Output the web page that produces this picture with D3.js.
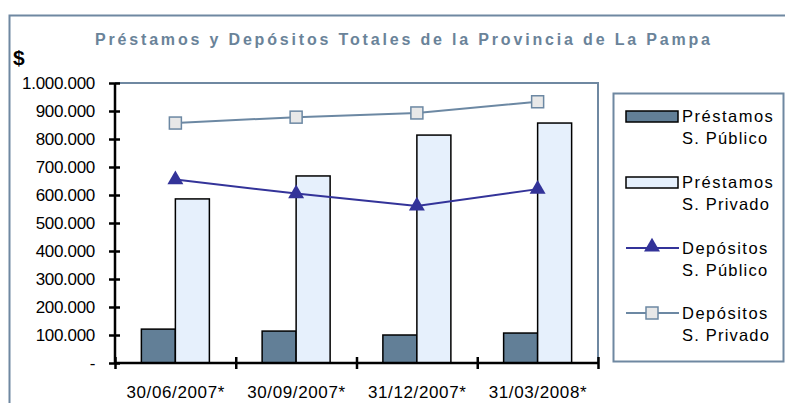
<!DOCTYPE html>
<html>
<head>
<meta charset="utf-8">
<script src="https://cdn.jsdelivr.net/npm/d3@7"></script>
<style>
body{margin:0;background:#fff;}
text{font-family:"Liberation Sans",Arial,sans-serif;}
</style>
</head>
<body>
<script>
var categories = ["30/06/2007*","30/09/2007*","31/12/2007*","31/03/2008*"];
var prestamosPublico = [121000,114000,100000,107000];
var prestamosPrivado = [586000,668000,814000,857000];
var depositosPublico = [655000,605000,561000,621000];
var depositosPrivado = [857000,878000,893000,933000];
var yTicks = [0,100000,200000,300000,400000,500000,600000,700000,800000,900000,1000000];
var legendLabels = [["Préstamos","S. Público"],["Préstamos","S. Privado"],["Depósitos","S. Público"],["Depósitos","S. Privado"]];

function init(){
	var w = 785, h = 403;
	var pLeft = 115, pRight = 598, pTop = 83, pBottom = 363;
	var frameColor = "#6f88a1";

	var svg = d3.select("body").append("svg")
		.attr("width",w)
		.attr("height",h);

	// outer frame
	svg.append("rect")
		.attr("x",9.5).attr("y",15.5)
		.attr("width",w+20).attr("height",h+20)
		.attr("fill","none")
		.attr("stroke",frameColor)
		.attr("stroke-width",2);

	svg.append("text")
		.attr("x",95).attr("y",45)
		.attr("textLength",615)
		.attr("lengthAdjust","spacing")
		.style("font-size","16px")
		.style("font-weight","bold")
		.attr("fill","#6a8399")
		.text("Préstamos y Depósitos Totales de la Provincia de La Pampa");

	svg.append("text")
		.attr("x",13).attr("y",65)
		.style("font-size","21px")
		.style("font-weight","bold")
		.text("$");

	var xScale = d3.scaleBand()
		.domain(categories)
		.range([pLeft,pRight]);

	var yScale = d3.scaleLinear()
		.domain([0,1000000])
		.range([pBottom,pTop]);

	var barW = 34;

	// plot area border (top + right)
	svg.append("path")
		.attr("d","M"+pLeft+","+pTop+"H"+pRight+"V"+pBottom)
		.attr("fill","none")
		.attr("stroke",frameColor)
		.attr("stroke-width",2);

	function barX(c,k){ return xScale(c)+xScale.bandwidth()/2 - barW + k*barW; }

	svg.append("g").selectAll("rect")
		.data(prestamosPublico)
		.enter().append("rect")
		.attr("x",function(d,i){ return barX(categories[i],0); })
		.attr("y",function(d){ return yScale(d); })
		.attr("width",barW)
		.attr("height",function(d){ return pBottom - yScale(d); })
		.attr("fill","#627f97")
		.attr("stroke","#000")
		.attr("stroke-width",1.5);

	svg.append("g").selectAll("rect")
		.data(prestamosPrivado)
		.enter().append("rect")
		.attr("x",function(d,i){ return barX(categories[i],1); })
		.attr("y",function(d){ return yScale(d); })
		.attr("width",barW)
		.attr("height",function(d){ return pBottom - yScale(d); })
		.attr("fill","#e6f0fc")
		.attr("stroke","#000")
		.attr("stroke-width",1.5);

	var cx = function(d,i){ return xScale(categories[i])+xScale.bandwidth()/2; };
	var line = d3.line().x(cx).y(function(d){ return yScale(d); });

	svg.append("path")
		.datum(depositosPublico)
		.attr("d",line)
		.attr("fill","none")
		.attr("stroke","#333399")
		.attr("stroke-width",2);

	var tri = d3.symbol().type(d3.symbolTriangle).size(110);
	svg.append("g").selectAll("path")
		.data(depositosPublico)
		.enter().append("path")
		.attr("d",tri)
		.attr("transform",function(d,i){ return "translate("+cx(d,i)+","+yScale(d)+")"; })
		.attr("fill","#333399");

	svg.append("path")
		.datum(depositosPrivado)
		.attr("d",line)
		.attr("fill","none")
		.attr("stroke","#6c88a3")
		.attr("stroke-width",2);

	svg.append("g").selectAll("rect")
		.data(depositosPrivado)
		.enter().append("rect")
		.attr("x",function(d,i){ return cx(d,i)-6; })
		.attr("y",function(d){ return yScale(d)-6; })
		.attr("width",12).attr("height",12)
		.attr("fill","#e8e8e8")
		.attr("stroke","#6c88a3")
		.attr("stroke-width",1.5);

	// axes
	var yAxis = d3.axisLeft(yScale)
		.tickValues(yTicks)
		.tickSize(5)
		.tickFormat(function(d){ return d === 0 ? "-" : d3.format(",")(d).replace(/,/g,"."); });

	var gy = svg.append("g")
		.attr("transform","translate("+pLeft+",0)")
		.call(yAxis);
	gy.select(".domain").attr("stroke-width",2.5).attr("d","M0,"+pTop+"V"+pBottom);
	gy.selectAll(".tick line").attr("stroke-width",2.5).attr("x1",5).attr("x2",-6);
	gy.selectAll(".tick text")
		.attr("x",-20)
		.style("font-size","17px")
		.style("letter-spacing","-0.3px")
		.style("font-family","'Liberation Sans',Arial,sans-serif")
		.attr("fill","#000");

	var xAxis = d3.axisBottom(d3.scaleLinear().domain([0,4]).range([pLeft,pRight]))
		.tickValues([0,1,2,3,4])
		.tickSize(6)
		.tickFormat("");

	var gx = svg.append("g")
		.attr("transform","translate(0,"+pBottom+")")
		.call(xAxis);
	gx.select(".domain").attr("stroke-width",2.5).attr("d","M"+pLeft+",0H"+pRight);
	gx.selectAll(".tick line").attr("stroke-width",2.5).attr("y1",-6).attr("y2",6);

	svg.append("g").selectAll("text")
		.data(categories)
		.enter().append("text")
		.attr("x",function(d){ return xScale(d)+xScale.bandwidth()/2 - 49; })
		.attr("y",398)
		.attr("textLength",98)
		.attr("lengthAdjust","spacing")
		.style("font-size","17px")
		.text(function(d){ return d; });

	// legend
	var lg = svg.append("g");
	lg.append("rect")
		.attr("x",613.5).attr("y",93.5)
		.attr("width",170).attr("height",268)
		.attr("fill","#fff")
		.attr("stroke",frameColor)
		.attr("stroke-width",2);

	var rowY = [116,182,248,313];
	var legendKinds = ["bar1","bar2","tri","sq"];
	legendKinds.forEach(function(k,i){
		var y = rowY[i];
		if(k==="bar1" || k==="bar2"){
			lg.append("rect")
				.attr("x",626).attr("y",y-5)
				.attr("width",52).attr("height",11)
				.attr("fill",k==="bar1" ? "#627f97" : "#e6f0fc")
				.attr("stroke","#000")
				.attr("stroke-width",1.5);
		} else {
			lg.append("line")
				.attr("x1",626).attr("x2",679)
				.attr("y1",y).attr("y2",y)
				.attr("stroke",k==="tri" ? "#333399" : "#6c88a3")
				.attr("stroke-width",2);
			if(k==="tri"){
				lg.append("path").attr("d",tri)
					.attr("transform","translate(652,"+(y-1)+")")
					.attr("fill","#333399");
			} else {
				lg.append("rect")
					.attr("x",646).attr("y",y-6)
					.attr("width",12).attr("height",12)
					.attr("fill","#e8e8e8")
					.attr("stroke","#6c88a3")
					.attr("stroke-width",1.5);
			}
		}
		lg.append("text")
			.attr("x",682).attr("y",y+6)
			.style("font-size","16.5px")
			.style("letter-spacing","1.5px")
			.text(legendLabels[i][0]);
		lg.append("text")
			.attr("x",682).attr("y",y+28)
			.style("font-size","16.5px")
			.style("letter-spacing","1.2px")
			.text(legendLabels[i][1]);
	});
}

window.onload = init;
</script>
</body>
</html>
